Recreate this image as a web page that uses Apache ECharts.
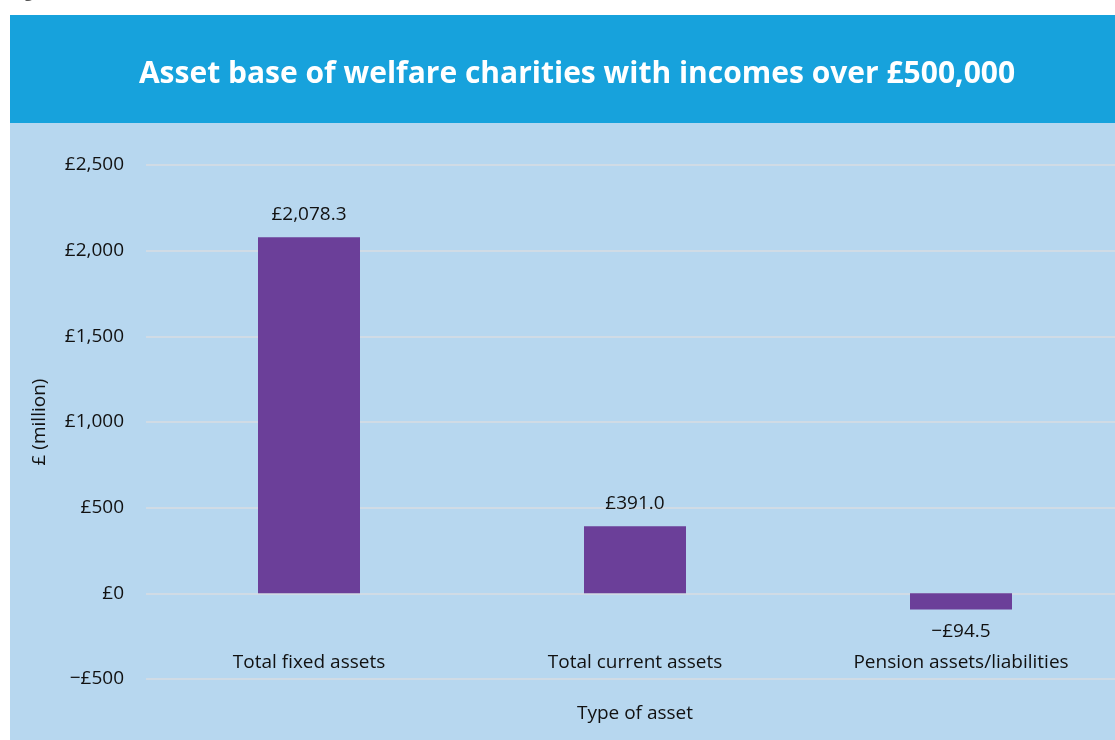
<!DOCTYPE html>
<html>
<head>
<meta charset="utf-8">
<script src="https://cdn.jsdelivr.net/npm/echarts@6/dist/echarts.min.js"></script>
<style>
  html, body { margin: 0; padding: 0; background: #fff; }
  #assetBase { width: 1115px; height: 740px; }
</style>
</head>
<body>
<div id="assetBase"></div>
<script>
var categories = ["Total fixed assets", "Total current assets", "Pension assets/liabilities"];
var assetValues = [2078.3, 391.0, -94.5];
var yTicks = [-500, 0, 500, 1000, 1500, 2000, 2500];

var textFont = "'Open Sans', 'Noto Sans', sans-serif";
var fs = 19;

function money(v, digits) {
  var s = Math.abs(v).toLocaleString("en-GB", { minimumFractionDigits: digits, maximumFractionDigits: digits });
  return (v < 0 ? "\u2212£" : "£") + s;
}

// negative bar gets its label underneath
var barData = assetValues.map(function (v) {
  return {
    value: v,
    label: { position: v < 0 ? "bottom" : "top" }
  };
});

var myChart = echarts.init(document.getElementById("assetBase"));
myChart.setOption({
  animation: false,
  backgroundColor: "#ffffff",
  graphic: [
    { type: "text", left: 12, top: -16, style: { text: "Figure 5.6", fill: "#555", font: "16px " + textFont } },
    { type: "rect", shape: { x: 10, y: 15, width: 1105, height: 108 }, style: { fill: "#17a2dc" }, z: -10 },
    { type: "rect", shape: { x: 10, y: 123, width: 1105, height: 617 }, style: { fill: "#b7d7ef" }, z: -10 }
  ],
  title: {
    text: "Asset base of welfare charities with incomes over £500,000",
    left: 572,
    top: 54,
    textAlign: "center",
    textStyle: { color: "#ffffff", fontSize: 30, fontWeight: "bold", fontFamily: "'Open Sans', sans-serif" }
  },
  grid: { left: 146, top: 165, width: 978, height: 514, containLabel: false, outerBoundsMode: "none" },
  xAxis: {
    type: "category",
    data: categories,
    name: "Type of asset",
    nameLocation: "middle",
    nameGap: 25,
    nameTextStyle: { color: "#111", fontSize: fs, fontFamily: textFont },
    axisLine: { show: false },
    axisTick: { show: false },
    axisLabel: { color: "#111", fontSize: fs, fontFamily: textFont, margin: -26, interval: 0 }
  },
  yAxis: {
    type: "value",
    min: yTicks[0],
    max: yTicks[yTicks.length - 1],
    interval: 500,
    name: "£ (million)",
    nameLocation: "middle",
    nameGap: 97,
    nameTextStyle: { color: "#111", fontSize: fs, fontFamily: textFont },
    axisLine: { show: false },
    axisTick: { show: false },
    axisLabel: { color: "#111", fontSize: fs, fontFamily: textFont, margin: 22, formatter: function (v) { return money(v, 0); } },
    splitLine: { lineStyle: { color: "#d9dde2", width: 1.5 } }
  },
  series: [{
    type: "bar",
    data: barData,
    barWidth: 102,
    itemStyle: { color: "#6b3f99" },
    label: {
      show: true,
      distance: 13,
      color: "#111",
      fontSize: fs,
      fontFamily: textFont,
      formatter: function (p) { return money(p.value, 1); }
    }
  }]
});
</script>
</body>
</html>
